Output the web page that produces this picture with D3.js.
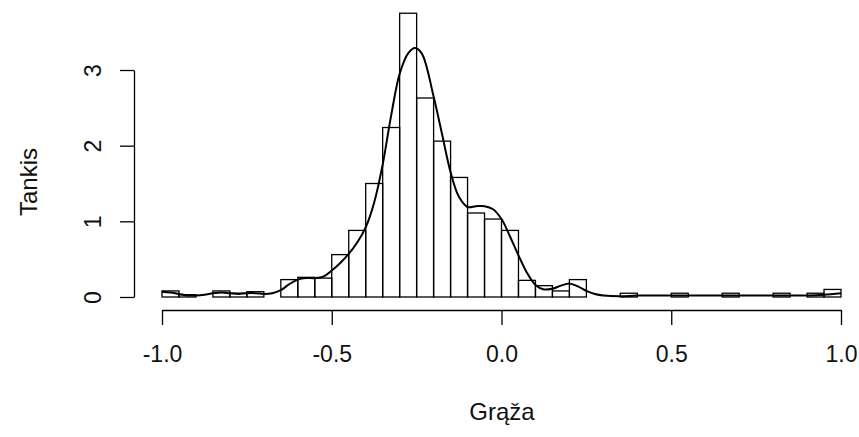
<!DOCTYPE html>
<html>
<head>
<meta charset="utf-8">
<script src="https://cdn.jsdelivr.net/npm/d3@7"></script>
<style>
  body { margin: 0; background: #fff; }
  text { font-family: "Liberation Sans", Arial, sans-serif; fill: #111; }
</style>
</head>
<body>
<div id="chart"></div>
<script>
// histogramos stulpeliai: kairieji kraštai (plotis 0.05) ir tankis
var binStarts = [-1.00, -0.95, -0.90, -0.85, -0.80, -0.75, -0.70, -0.65, -0.60, -0.55,
                 -0.50, -0.45, -0.40, -0.35, -0.30, -0.25, -0.20, -0.15, -0.10, -0.05,
                  0.00,  0.05,  0.10,  0.15,  0.20,  0.25,  0.30,  0.35,  0.40,  0.45,
                  0.50,  0.55,  0.60,  0.65,  0.70,  0.75,  0.80,  0.85,  0.90,  0.95];
var binDensity = [0.08, 0.03, 0.00, 0.08, 0.05, 0.07, 0.00, 0.23, 0.26, 0.25,
                  0.56, 0.88, 1.50, 2.24, 3.75, 2.63, 2.06, 1.58, 1.11, 1.03,
                  0.88, 0.22, 0.15, 0.08, 0.23, 0.00, 0.00, 0.05, 0.00, 0.00,
                  0.05, 0.00, 0.00, 0.05, 0.00, 0.00, 0.05, 0.00, 0.05, 0.10];
var binWidth = 0.05;

// tankio kreivė (nuskaityta nuo paveikslo)
var curveX = [-1.00, -0.975, -0.95, -0.925, -0.90, -0.875, -0.85, -0.825, -0.80, -0.775,
              -0.75, -0.725, -0.70, -0.675, -0.65, -0.625, -0.60, -0.575, -0.55, -0.525,
              -0.50, -0.475, -0.45, -0.425, -0.40, -0.375, -0.35, -0.325, -0.30, -0.275,
              -0.255, -0.235, -0.20, -0.175, -0.15, -0.125, -0.10, -0.075, -0.05, -0.025,
               0.00, 0.025, 0.05, 0.075, 0.10, 0.125, 0.15, 0.175, 0.20, 0.225,
               0.25, 0.275, 0.30, 0.35, 0.40, 0.50, 0.60, 0.70, 0.80, 0.90,
               0.95, 1.00];
var curveY = [0.07, 0.06, 0.04, 0.02, 0.02, 0.03, 0.05, 0.06, 0.05, 0.04,
              0.05, 0.05, 0.04, 0.05, 0.09, 0.17, 0.23, 0.25, 0.25, 0.27,
              0.35, 0.45, 0.57, 0.72, 0.92, 1.25, 1.75, 2.40, 2.95, 3.22,
              3.29, 3.22, 2.65, 2.15, 1.65, 1.32, 1.19, 1.20, 1.20, 1.16,
              1.03, 0.80, 0.55, 0.32, 0.16, 0.10, 0.11, 0.15, 0.18, 0.14,
              0.08, 0.04, 0.02, 0.01, 0.02, 0.02, 0.02, 0.02, 0.02, 0.02,
              0.03, 0.05];

var xTicks = [-1.0, -0.5, 0.0, 0.5, 1.0];
var yTicks = [0, 1, 2, 3];

var width = 859, height = 437;

var svg = d3.select("#chart").append("svg")
    .attr("width", width)
    .attr("height", height);

// skalės
var x = d3.scaleLinear().domain([-1, 1]).range([162, 841]);
var y = d3.scaleLinear().domain([0, 3]).range([297, 70]);

// stulpeliai
svg.selectAll(".bar")
    .data(binStarts)
    .enter()
    .append("rect")
    .attr("class", "bar")
    .attr("x", function(d) { return x(d); })
    .attr("y", function(d, i) { return y(binDensity[i]); })
    .attr("width", function(d) { return x(d + binWidth) - x(d); })
    .attr("height", function(d, i) { return y(0) - y(binDensity[i]); })
    .attr("fill", "none")
    .attr("stroke", "#000")
    .attr("stroke-width", 1.3);

// tankio kreivė
var line = d3.line()
    .x(function(d) { return x(d); })
    .y(function(d, i) { return y(curveY[i]); })
    .curve(d3.curveCatmullRom);

svg.append("path")
    .attr("d", line(curveX))
    .attr("fill", "none")
    .attr("stroke", "#000")
    .attr("stroke-width", 2);

// x ašis
var xAxis = d3.axisBottom(x)
    .tickValues(xTicks)
    .tickFormat(function(d) { return d.toFixed(1); })
    .tickSizeInner(15)
    .tickSizeOuter(0);

var gx = svg.append("g")
    .attr("transform", "translate(0,310)")
    .call(xAxis);
gx.selectAll("text")
    .attr("y", 52)
    .attr("dy", 0)
    .style("font-size", "23px");

// y ašis
var yAxis = d3.axisLeft(y)
    .tickValues(yTicks)
    .tickFormat(function(d) { return String(d); })
    .tickSizeInner(14)
    .tickSizeOuter(0);

var gy = svg.append("g")
    .attr("transform", "translate(134,0)")
    .call(yAxis);
gy.selectAll("text")
    .attr("x", 0)
    .attr("y", 0)
    .attr("dy", 0)
    .attr("text-anchor", "middle")
    .attr("transform", "translate(-33,0) rotate(-90)")
    .style("font-size", "23px");

svg.selectAll(".domain, .tick line")
    .attr("stroke", "#000")
    .attr("stroke-width", 1.3);

// ašių pavadinimai
svg.append("text")
    .attr("x", 502)
    .attr("y", 420)
    .attr("text-anchor", "middle")
    .style("font-size", "24px")
    .text("Grąža");

svg.append("text")
    .attr("transform", "translate(37,182) rotate(-90)")
    .attr("text-anchor", "middle")
    .style("font-size", "24px")
    .text("Tankis");
</script>
</body>
</html>
